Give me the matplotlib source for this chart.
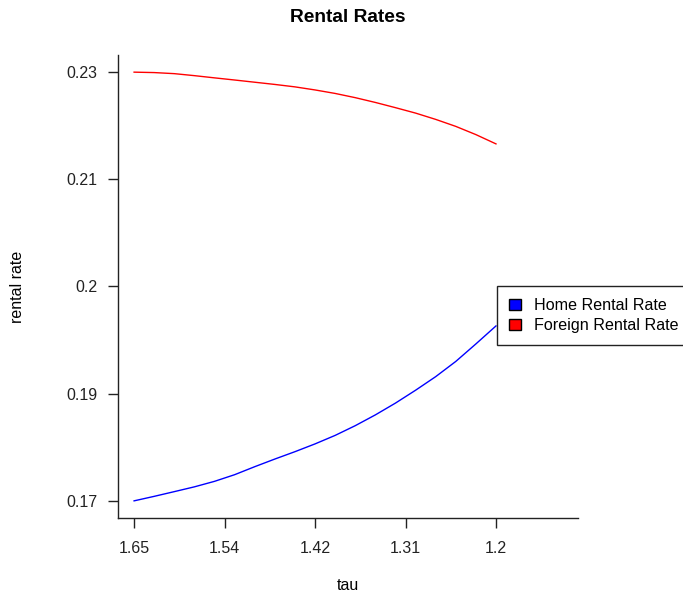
import matplotlib.pyplot as plt
from matplotlib.patches import Patch

plt.rcParams['font.family'] = ['Liberation Sans', 'DejaVu Sans']

# tau grid (step 0.025) and the two rental rate series
tau = [1.650, 1.625, 1.600, 1.575, 1.550, 1.525, 1.500, 1.475, 1.450, 1.425,
       1.400, 1.375, 1.350, 1.325, 1.300, 1.275, 1.250, 1.225, 1.200]
home_rate = [0.17000, 0.17063, 0.17129, 0.17196, 0.17273, 0.17366, 0.17478,
             0.17585, 0.17688, 0.17797, 0.17916, 0.18052, 0.18203, 0.18368,
             0.18548, 0.18738, 0.18951, 0.19196, 0.19448]
foreign_rate = [0.23000, 0.22994, 0.22979, 0.22951, 0.22920, 0.22890, 0.22859,
                0.22828, 0.22794, 0.22751, 0.22702, 0.22643, 0.22576, 0.22503,
                0.22427, 0.22339, 0.22241, 0.22126, 0.21996]

# axis ticks: evenly spaced positions, labels rounded to 2 digits
xticks = [1.65, 1.5375, 1.425, 1.3125, 1.2]
xtick_labels = ['1.65', '1.54', '1.42', '1.31', '1.2']
yticks = [0.170, 0.185, 0.200, 0.215, 0.230]
ytick_labels = ['0.17', '0.19', '0.2', '0.21', '0.23']

W, H = 683, 596
fig = plt.figure(figsize=(W / 100, H / 100), dpi=100)
ax = fig.add_axes([118 / W, 1 - 518 / H, (578 - 118) / W, (518 - 55) / H])

ax.plot(tau, home_rate, color='blue', lw=1.0)
ax.plot(tau, foreign_rate, color='red', lw=1.0)

ax.set_xlim(1.670, 1.098)
ax.set_ylim(0.1676, 0.2324)

ax.set_xticks(xticks)
ax.set_xticklabels(xtick_labels)
ax.set_yticks(yticks)
ax.set_yticklabels(ytick_labels)
ax.tick_params(axis='both', direction='out', length=7.5, width=1, labelsize=11.5, colors='#222222')
ax.tick_params(axis='x', pad=9)
ax.tick_params(axis='y', pad=7)

for side in ['top', 'right']:
    ax.spines[side].set_visible(False)
for side in ['left', 'bottom']:
    ax.spines[side].set_linewidth(1)
    ax.spines[side].set_color('#222222')

fig.text(348 / W, 1 - 18 / H, 'Rental Rates', ha='center', va='center',
         fontsize=13.8, fontweight='bold')
fig.text(348 / W, 1 - 585 / H, 'tau', ha='center', va='center', fontsize=11.5)
fig.text(18 / W, 1 - 287 / H, 'rental rate', ha='center', va='center',
         rotation=90, fontsize=11.5)

handles = [Patch(facecolor='blue', edgecolor='black', lw=1),
           Patch(facecolor='red', edgecolor='black', lw=1)]
leg = fig.legend(handles, ['Home Rental Rate', 'Foreign Rental Rate'],
                 loc='upper left', bbox_to_anchor=(497 / W, 1 - 286 / H),
                 fancybox=False, framealpha=1, edgecolor='#222222', fontsize=11.6,
                 handlelength=0.75, handleheight=0.7, handletextpad=0.8,
                 borderpad=0.75, labelspacing=0.3, borderaxespad=0)
leg.get_frame().set_linewidth(1)

fig.savefig('out.png', dpi=100)
